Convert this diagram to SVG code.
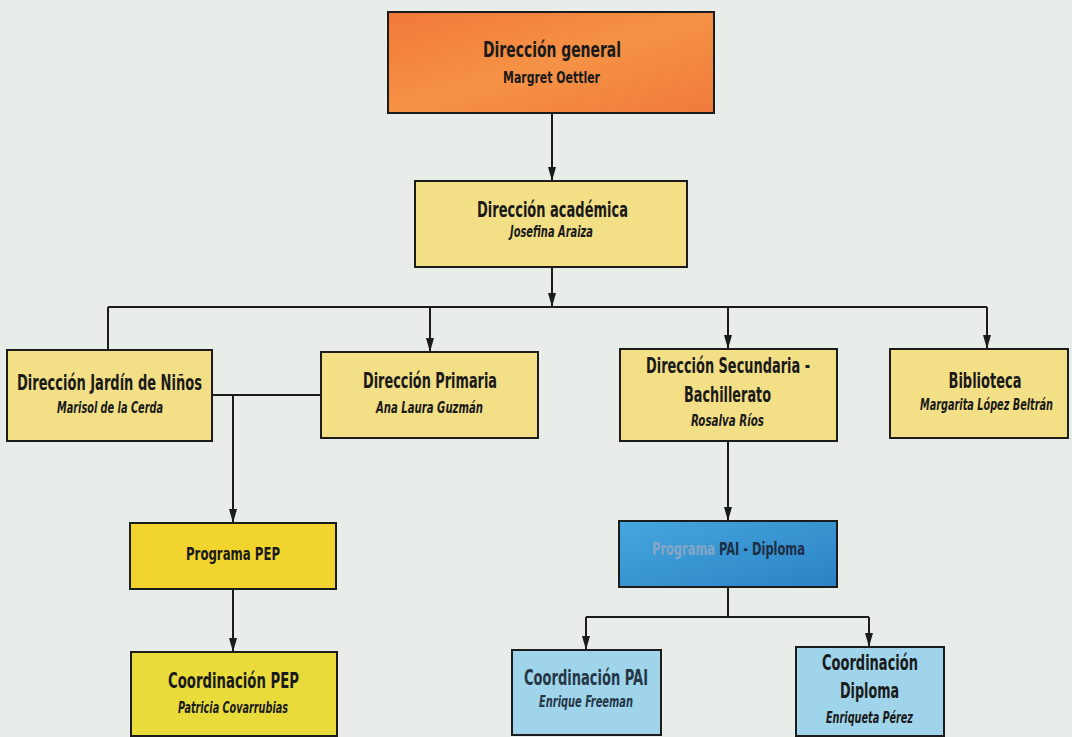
<svg xmlns="http://www.w3.org/2000/svg" width="1072" height="737" viewBox="0 0 1072 737">
  <defs>
    <style>
      .box { stroke: #1c1c1c; stroke-width: 2; }
      .t { font-family: "Liberation Sans Narrow", "DejaVu Sans Condensed", "Liberation Sans", sans-serif; font-weight: bold; text-anchor: middle; fill: #1a1a1a; }
      .h { font-size: 21px; }
      .n { font-size: 15px; font-style: italic; }
      .p { font-size: 18px; }
      .conn { fill: none; stroke: #1c1c1c; stroke-width: 2; }
      .arr { marker-end: url(#ah); }
    </style>
    <marker id="ah" viewBox="0 0 14 8" refX="14" refY="4" markerWidth="14" markerHeight="8" markerUnits="userSpaceOnUse" orient="auto">
      <path d="M0,0 L14,4 L0,8 Z" fill="#1c1c1c"/>
    </marker>
    <linearGradient id="gOrange" x1="0" y1="0" x2="1" y2="1">
      <stop offset="0" stop-color="#f1783a"/>
      <stop offset="0.5" stop-color="#f59245"/>
      <stop offset="1" stop-color="#f07a3c"/>
    </linearGradient>
    <linearGradient id="gBlue" x1="0" y1="0" x2="1" y2="1">
      <stop offset="0" stop-color="#45a6de"/>
      <stop offset="1" stop-color="#2c82c4"/>
    </linearGradient>
  </defs>

  <rect x="0" y="0" width="1072" height="737" fill="#e9ede9"/>

  <g id="connectors">
    <path class="conn arr" d="M552,113 V181"/>
    <path class="conn arr" d="M552,267 V307"/>
    <path class="conn" d="M108,307 H987"/>
    <path class="conn" d="M108,307 V350"/>
    <path class="conn arr" d="M430,307 V352"/>
    <path class="conn arr" d="M728,307 V349"/>
    <path class="conn arr" d="M987,307 V349"/>
    <path class="conn" d="M212,395 H321"/>
    <path class="conn arr" d="M233,395 V523"/>
    <path class="conn arr" d="M233,589 V652"/>
    <path class="conn arr" d="M728,441 V521"/>
    <path class="conn" d="M728,587 V617 M586,617 H869"/>
    <path class="conn arr" d="M586,617 V650"/>
    <path class="conn arr" d="M869,617 V647"/>
  </g>

  <g id="direccion-general">
    <rect class="box" x="388" y="12" width="326" height="101" fill="url(#gOrange)"/>
    <text class="t h" x="552" y="57" textLength="138" lengthAdjust="spacingAndGlyphs">Dirección general</text>
    <text class="t" x="551.5" y="83" font-size="16" textLength="97" lengthAdjust="spacingAndGlyphs">Margret Oettler</text>
  </g>

  <g id="direccion-academica">
    <rect class="box" x="415" y="181" width="272" height="86" fill="#f3df86"/>
    <text class="t h" x="552.5" y="217" textLength="151" lengthAdjust="spacingAndGlyphs">Dirección académica</text>
    <text class="t n" x="551.5" y="237" textLength="83" lengthAdjust="spacingAndGlyphs">Josefina Araiza</text>
  </g>

  <g id="jardin">
    <rect class="box" x="7" y="350" width="205" height="91" fill="#f3df86"/>
    <text class="t h" x="109.5" y="390" textLength="185" lengthAdjust="spacingAndGlyphs">Dirección Jardín de Niños</text>
    <text class="t n" x="110" y="413" textLength="106" lengthAdjust="spacingAndGlyphs">Marisol de la Cerda</text>
  </g>

  <g id="primaria">
    <rect class="box" x="321" y="352" width="217" height="86" fill="#f3df86"/>
    <text class="t h" x="430" y="388" textLength="134" lengthAdjust="spacingAndGlyphs">Dirección Primaria</text>
    <text class="t n" x="429.5" y="413" textLength="107" lengthAdjust="spacingAndGlyphs">Ana Laura Guzmán</text>
  </g>

  <g id="secundaria">
    <rect class="box" x="620" y="349" width="217" height="92" fill="#f3df86"/>
    <text class="t h" x="728" y="373" textLength="164" lengthAdjust="spacingAndGlyphs">Dirección Secundaria -</text>
    <text class="t h" x="727.5" y="402" textLength="87" lengthAdjust="spacingAndGlyphs">Bachillerato</text>
    <text class="t n" x="727.5" y="426" textLength="73" lengthAdjust="spacingAndGlyphs">Rosalva Ríos</text>
  </g>

  <g id="biblioteca">
    <rect class="box" x="890" y="349" width="178" height="89" fill="#f3df86"/>
    <text class="t h" x="985" y="388" textLength="73" lengthAdjust="spacingAndGlyphs">Biblioteca</text>
    <text class="t n" x="986.5" y="410" textLength="133" lengthAdjust="spacingAndGlyphs">Margarita López Beltrán</text>
  </g>

  <g id="programa-pep">
    <rect class="box" x="130" y="523" width="206" height="66" fill="#f2d42e"/>
    <text class="t p" x="233" y="560" textLength="94" lengthAdjust="spacingAndGlyphs">Programa PEP</text>
  </g>

  <g id="coordinacion-pep">
    <rect class="box" x="131" y="652" width="206" height="84" fill="#e9dc3a"/>
    <text class="t h" x="233.5" y="688" textLength="131" lengthAdjust="spacingAndGlyphs">Coordinación PEP</text>
    <text class="t n" x="233" y="713" textLength="110" lengthAdjust="spacingAndGlyphs">Patricia Covarrubias</text>
  </g>

  <g id="programa-pai-diploma">
    <rect class="box" x="619" y="521" width="218" height="66" fill="url(#gBlue)"/>
    <text class="t p" x="728.5" y="555" textLength="153" lengthAdjust="spacingAndGlyphs"><tspan style="fill:#86a6c6">Programa </tspan><tspan style="fill:#1d2e44">PAI - Diploma</tspan></text>
  </g>

  <g id="coordinacion-pai">
    <rect class="box" x="512" y="650" width="149" height="85" fill="#9fd4ea"/>
    <text class="t h" x="586" y="685" style="fill:#263746" textLength="124" lengthAdjust="spacingAndGlyphs">Coordinación PAI</text>
    <text class="t n" x="586" y="707" style="fill:#263746" textLength="94" lengthAdjust="spacingAndGlyphs">Enrique Freeman</text>
  </g>

  <g id="coordinacion-diploma">
    <rect class="box" x="796" y="647" width="148" height="89" fill="#9fd4ea"/>
    <text class="t h" x="870" y="670" textLength="96" lengthAdjust="spacingAndGlyphs">Coordinación</text>
    <text class="t h" x="869.5" y="698" textLength="59" lengthAdjust="spacingAndGlyphs">Diploma</text>
    <text class="t n" x="869.5" y="723" textLength="87" lengthAdjust="spacingAndGlyphs">Enriqueta Pérez</text>
  </g>
</svg>
